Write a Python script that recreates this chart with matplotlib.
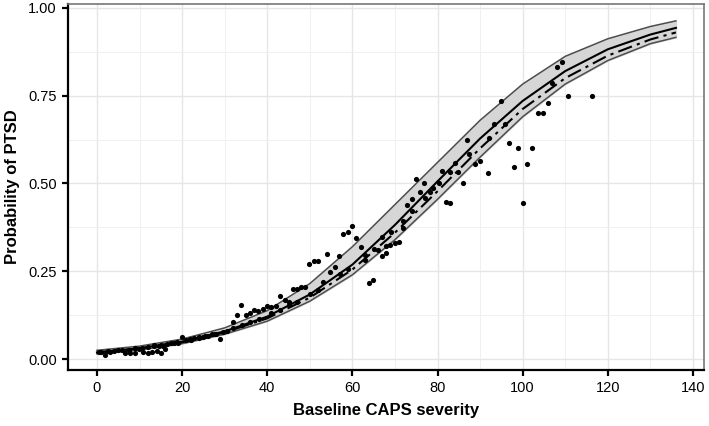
import matplotlib
matplotlib.use('Agg')
import matplotlib.pyplot as plt
import numpy as np

plt.rcParams['font.family'] = ['Liberation Sans', 'DejaVu Sans']

# fitted curves and confidence band
curve_x = [0, 10, 20, 30, 40, 50, 60, 70, 80, 90, 100, 110, 120, 130, 136]
fit_solid = [0.019, 0.031, 0.050, 0.079, 0.121, 0.184, 0.269, 0.382, 0.506, 0.628, 0.735, 0.820, 0.882, 0.924, 0.943]
fit_dashed = [0.019, 0.030, 0.048, 0.076, 0.116, 0.175, 0.255, 0.360, 0.478, 0.600, 0.712, 0.800, 0.864, 0.910, 0.930]
band_upper = [0.025, 0.037, 0.057, 0.089, 0.138, 0.215, 0.320, 0.440, 0.560, 0.680, 0.783, 0.862, 0.912, 0.947, 0.963]
band_lower = [0.015, 0.026, 0.044, 0.071, 0.108, 0.165, 0.240, 0.340, 0.455, 0.575, 0.690, 0.783, 0.850, 0.898, 0.916]

# observed points
obs_x = [1.8, 6.7, 7.8, 9.0, 9.9, 10.9, 11.9, 12.9, 14.0, 15.0, 16.0,
         13.3, 14.5, 15.6, 18.0, 18.8, 20.0, 21.9, 22.7, 23.9, 25.4, 27.0, 27.8, 28.9,
         31.9, 32.9, 33.9, 34.9, 35.9, 37.0, 37.9, 39.0, 39.9, 40.9, 42.0, 42.9, 44.2, 45.0,
         46.0, 46.9, 48.0, 48.9, 49.9, 51.0, 52.0, 53.0, 54.0, 54.8, 55.9, 56.9, 57.9, 58.9,
         60.0, 60.9, 62.0, 63.0, 64.0, 64.9, 66.1, 66.9, 67.9, 66.9, 67.9, 68.8, 69.9, 70.9,
         71.8, 72.9, 73.9, 75.0, 75.9, 76.9, 78.2, 80.4, 81.0, 81.9, 82.9, 84.1, 84.9, 85.9,
         87.0, 88.9, 90.0, 91.9, 93.3, 94.9, 95.8, 96.9, 98.0, 98.9, 100.0, 101.1, 102.3,
         103.7, 104.7, 106.0, 106.8, 108.0, 109.3, 110.7, 116.3,
         0.5, 1.0, 2.5, 3.0, 4.0, 5.0, 6.0, 7.5, 9.0, 10.5, 12.0, 13.5, 15.0, 16.5, 17.5,
         19.0, 21.0, 22.0, 24.0, 25.0, 26.0, 28.0, 29.5, 30.5, 32.0, 34.0, 36.0, 38.0, 41.0,
         43.0, 45.0, 47.0, 50.0, 52.0, 57.0, 59.0, 63.0, 65.0, 69.0, 72.0, 74.0, 77.0, 79.0,
         83.0, 87.5, 92.0]
obs_p = [0.012, 0.016, 0.018, 0.016, 0.028, 0.019, 0.016, 0.021, 0.022, 0.016, 0.028,
         0.040, 0.038, 0.037, 0.045, 0.049, 0.062, 0.056, 0.059, 0.063, 0.066, 0.071, 0.071, 0.057,
         0.106, 0.127, 0.155, 0.125, 0.130, 0.141, 0.137, 0.144, 0.151, 0.149, 0.152, 0.179, 0.168, 0.163,
         0.201, 0.201, 0.206, 0.206, 0.270, 0.280, 0.280, 0.220, 0.299, 0.249, 0.261, 0.293, 0.355, 0.361,
         0.379, 0.344, 0.319, 0.281, 0.217, 0.225, 0.310, 0.293, 0.303, 0.348, 0.322, 0.324, 0.330, 0.333,
         0.372, 0.439, 0.457, 0.512, 0.475, 0.500, 0.475, 0.500, 0.535, 0.448, 0.445, 0.557, 0.532, 0.501,
         0.625, 0.555, 0.564, 0.530, 0.668, 0.734, 0.668, 0.615, 0.546, 0.600, 0.445, 0.555, 0.600,
         0.700, 0.700, 0.728, 0.787, 0.832, 0.847, 0.749, 0.749,
         0.021, 0.019, 0.022, 0.021, 0.024, 0.025, 0.027, 0.027, 0.031, 0.031, 0.035, 0.036, 0.041, 0.042, 0.046,
         0.047, 0.053, 0.054, 0.061, 0.062, 0.067, 0.071, 0.078, 0.080, 0.089, 0.096, 0.107, 0.114, 0.131,
         0.139, 0.153, 0.164, 0.184, 0.197, 0.241, 0.257, 0.296, 0.314, 0.361, 0.394, 0.421, 0.459, 0.486,
         0.534, 0.585, 0.630]

x_ticks = [0, 20, 40, 60, 80, 100, 120, 140]
y_ticks = [0.00, 0.25, 0.50, 0.75, 1.00]
y_tick_labels = ['0.00', '0.25', '0.50', '0.75', '1.00']

fig = plt.figure(figsize=(7.09, 4.26), dpi=100)
ax = fig.add_axes([68 / 709, 56 / 426, 636 / 709, 366 / 426])

ax.fill_between(curve_x, band_lower, band_upper, color='#d6d6d6', zorder=2)
ax.plot(curve_x, band_upper, color='#4d4d4d', lw=1.1, zorder=3)
ax.plot(curve_x, band_lower, color='#4d4d4d', lw=1.1, zorder=3)
ax.scatter(obs_x, obs_p, s=14, color='black', zorder=4, linewidths=0)
ax.plot(curve_x, fit_solid, color='black', lw=1.5, zorder=5)
ax.plot(curve_x, fit_dashed, color='black', lw=1.5, linestyle=(0, (7, 2.5, 1.5, 2.5)), zorder=5)

ax.set_xlim(-6.8, 142.6)
ax.set_ylim(-0.031, 1.011)
ax.set_xticks(x_ticks)
ax.set_yticks(y_ticks)
ax.set_yticklabels(y_tick_labels)
ax.set_xticks([10, 30, 50, 70, 90, 110, 130], minor=True)
ax.set_yticks([0.125, 0.375, 0.625, 0.875], minor=True)

ax.grid(which='major', color='#e6e6e6', lw=1.0, zorder=0)
ax.grid(which='minor', color='#f0f0f0', lw=0.7, zorder=0)
ax.set_axisbelow(True)

for side in ['left', 'bottom']:
    ax.spines[side].set_color('black')
    ax.spines[side].set_linewidth(1.6)
for side in ['top', 'right']:
    ax.spines[side].set_color('#777777')
    ax.spines[side].set_linewidth(1.2)

ax.tick_params(which='major', direction='out', length=4, width=1.6, color='black',
               labelsize=10.5, pad=4)
ax.tick_params(which='minor', length=0)

ax.set_xlabel('Baseline CAPS severity', fontsize=12, fontweight='bold', labelpad=6)
ax.set_ylabel('Probability of PTSD', fontsize=12, fontweight='bold', labelpad=6)

fig.savefig('out.png', dpi=100)
